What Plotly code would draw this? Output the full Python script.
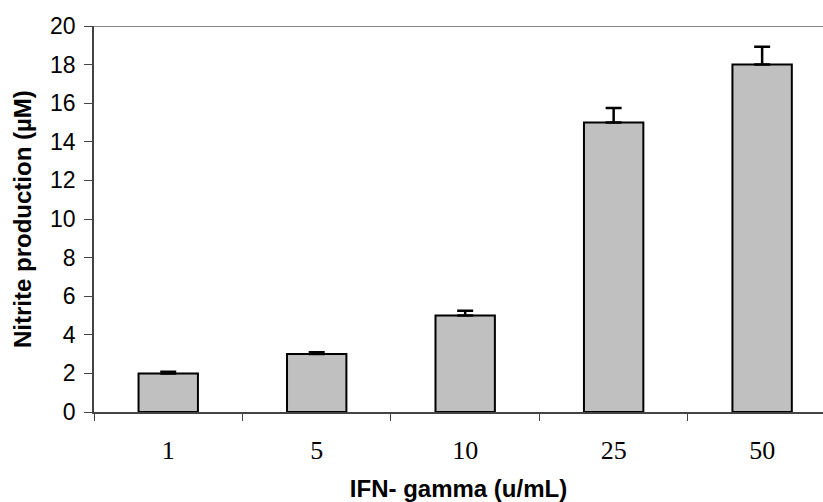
import plotly.graph_objects as go

categories = ["1", "5", "10", "25", "50"]
values = [2.0, 3.0, 5.0, 15.0, 18.0]
errors = [0.08, 0.1, 0.25, 0.75, 0.92]
y_ticks = [0, 2, 4, 6, 8, 10, 12, 14, 16, 18, 20]

fig = go.Figure()
fig.add_trace(go.Bar(
    x=categories, y=values, width=0.4,
    marker=dict(color="#c0c0c0", line=dict(color="black", width=2)),
    error_y=dict(type="data", array=errors, symmetric=False, arrayminus=[0]*5,
                 color="black", thickness=2.5, width=8),
))

fig.add_shape(type="line", xref="paper", yref="y", x0=0, x1=1, y0=20, y1=20,
              line=dict(color="#888888", width=2))

fig.add_annotation(
    text="<b>Nitrite production (µM)</b>", textangle=-90,
    xref="paper", yref="paper", x=(22 - 94) / 729, y=0.5,
    xanchor="center", yanchor="middle", showarrow=False,
    font=dict(family="Liberation Sans, Arial, sans-serif", size=24, color="black"),
)

fig.update_layout(
    width=823, height=502,
    margin=dict(l=94, r=0, t=26, b=90),
    plot_bgcolor="white", paper_bgcolor="white",
    showlegend=False,
    xaxis=dict(
        type="category", range=[-0.5, 4.41],
        showline=True, linecolor="#444444", linewidth=1.5,
        ticks="outside", tickson="boundaries", ticklen=7, tickcolor="#444444", tickwidth=1,
        ticklabelstandoff=14,
        tickfont=dict(family="Liberation Serif, Times New Roman, serif", size=26, color="black"),
        showgrid=False, zeroline=False,
        title=dict(text="<b>IFN- gamma (u/mL)</b>",
                   font=dict(family="Liberation Sans, Arial, sans-serif", size=24, color="black"),
                   standoff=16),
    ),
    yaxis=dict(
        range=[0, 20], tickvals=y_ticks,
        showline=True, linecolor="#444444", linewidth=1.5,
        ticks="outside", ticklen=8, tickcolor="#444444", tickwidth=1,
        ticklabelstandoff=4,
        tickfont=dict(family="Liberation Sans, Arial, sans-serif", size=23, color="black"),
        showgrid=False, zeroline=False,
    ),
)

fig.write_html("out.html")
